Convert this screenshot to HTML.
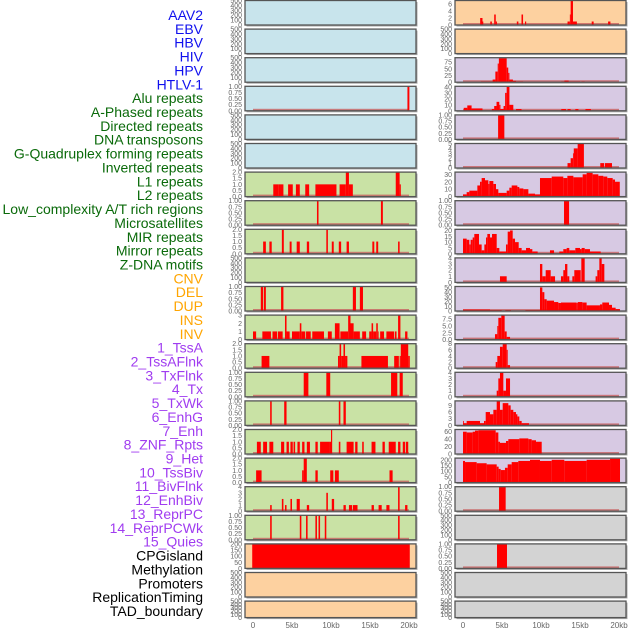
<!DOCTYPE html>
<html><head><meta charset="utf-8">
<style>
html,body{margin:0;padding:0;background:#fff;}
svg{display:block;font-family:"Liberation Sans",sans-serif;}
</style></head>
<body>
<svg id="chart" width="630" height="630" viewBox="0 0 630 630" xmlns="http://www.w3.org/2000/svg">
<g id="labels"></g>
<g id="panels"></g>
<g id="xaxis"></g>
</svg>
<script>
const trackLabels = ["AAV2","EBV","HBV","HIV","HPV","HTLV-1","Alu repeats","A-Phased repeats","Directed repeats","DNA transposons","G-Quadruplex forming repeats","Inverted repeats","L1 repeats","L2 repeats","Low_complexity A/T rich regions","Microsatellites","MIR repeats","Mirror repeats","Z-DNA motifs","CNV","DEL","DUP","INS","INV","1_TssA","2_TssAFlnk","3_TxFlnk","4_Tx","5_TxWk","6_EnhG","7_Enh","8_ZNF_Rpts","9_Het","10_TssBiv","11_BivFlnk","12_EnhBiv","13_ReprPC","14_ReprPCWk","15_Quies","CPGisland","Methylation","Promoters","ReplicationTiming","TAD_boundary"];
const labelGroups = [6,13,5,15,5];
const groupColors = ["#1010ee","#0a6a0a","#ffa500","#a03cf0","#000000"];
const xTickValues = [0,5,10,15,20];
const xTickLabels = ["0","5kb","10kb","15kb","20kb"];

const T500=[0,100,200,300,400,500], T1=[0,0.25,0.5,0.75,1], T2=[0,0.5,1,1.5,2];
const leftBg = ["b","b","b","b","b","b","g","g","g","g","g","g","g","g","g","g","g","g","g","p","p","p"];
const rightBg = ["p","p","v","v","v","v","v","v","v","v","v","v","v","v","v","v","v","k","k","k","k","k"];
const leftYMax = [500,500,500,1,500,500,2,1,2,500,1,3,2,1,1,2,2,4,1,200,500,500];
const rightYMax = [7,500,92,41,1,5,33,1,21,4,52,9,8,4,11,66,215,1,500,1,500,500];
const leftTicks = [T500,T500,T500,T1,T500,T500,T2,T1,T2,T500,T1,[0,1,2,3],T2,T1,T1,T2,T2,[0,1,2,3,4],T1,[0,50,100,150,200],T500,T500];
const rightTicks = [[0,2,4,6],T500,[0,25,50,75],[0,10,20,30,40],T1,[0,1,2,3,4,5],[0,10,20,30],T1,[0,5,10,15,20],[0,1,2,3,4],[0,10,20,30,40,50],[0,2.5,5,7.5],[0,2,4,6,8],[0,1,2,3,4],[0,3,6,9],[0,20,40,60],[0,50,100,150,200],T1,T500,T1,T500,T500];

function hist(edges, vals){ const s=[]; for(let i=0;i<vals.length;i++) s.push([edges[i],edges[i+1],vals[i]]); return s; }

const leftSegs = [
 [],[],[],
 [[19.8,20.05,1]],
 [],[],
 [[2.6,3.3,1],[3.3,3.9,1],[4.5,5.1,1],[5.5,6.0,1],[6.7,7.2,1],[8.0,10.7,1],[11.1,11.9,1],[11.9,12.3,2],[12.3,12.8,1],[18.3,18.8,2],[18.8,18.95,1]],
 [[8.2,8.4,1],[16.4,16.65,1]],
 [[1.3,1.65,1],[2.1,2.4,1],[3.7,3.95,2],[4.7,4.95,1],[5.6,6.0,1],[6.9,7.2,1],[9.4,9.6,2],[10.1,10.35,1],[11.0,11.3,1],[12.0,12.3,1],[15.3,15.55,1],[15.8,16.05,1],[18.6,18.8,1]],
 [],
 [[1.0,1.3,1],[1.4,1.65,1],[3.6,3.9,1],[12.8,13.2,1],[13.7,14.1,1]],
 [[0,0.4,1],[1.2,2.3,1],[2.5,3.1,1],[3.2,3.8,1],[4.1,4.3,3],[4.3,4.7,1],[5.0,6.0,1],[6.0,6.2,2],[6.2,6.7,1],[6.8,7.4,1],[7.6,9.1,1],[9.6,10.1,1],[10.5,11.1,2],[11.2,12.2,1],[12.2,12.5,3],[12.5,12.9,2],[12.9,13.7,1],[14.0,14.5,1],[14.9,15.2,1],[15.2,15.4,2],[15.4,15.8,1],[15.8,16.0,2],[16.0,16.1,1],[16.3,16.8,1],[17.1,18.1,1],[18.2,18.4,1],[18.6,18.9,3],[19.5,19.8,1]],
 [[1.1,2.1,1],[10.9,11.1,1],[11.1,11.3,2],[11.3,11.6,1],[11.6,11.8,2],[11.8,12.1,1],[13.9,17.3,1],[18.1,18.7,1],[18.8,18.95,1],[18.95,19.9,2],[19.9,20.1,1]],
 [[6.5,7.1,1],[9.4,9.9,1],[17.7,18.5,1],[18.8,19.2,1]],
 [[2.2,2.4,1],[4.0,4.3,1],[11.0,11.2,1],[11.6,11.9,1]],
 [[0.5,1.0,1],[1.3,1.8,1],[2.1,2.6,1],[3.6,4.0,1],[4.3,4.6,1],[4.8,5.1,1],[5.2,5.4,1],[5.7,6.0,1],[6.3,6.6,1],[6.9,7.3,1],[8.0,8.3,1],[8.6,9.8,1],[9.8,10.0,1],[10.0,10.15,2],[11.0,11.2,1],[12.0,12.9,1],[13.1,13.4,1],[14.0,14.2,1],[15.2,15.7,1],[16.6,16.9,1],[17.4,18.3,1],[18.6,18.9,1],[19.2,19.5,1],[19.6,19.9,1]],
 [[0.4,1.1,1],[6.3,6.5,1],[6.5,6.9,2],[8.0,8.3,1],[9.9,10.3,1],[10.5,11.0,1],[17.5,17.9,1]],
 [[2.2,2.4,1],[3.7,3.9,2],[4.1,4.3,1],[4.8,5.0,2],[5.6,6.0,2],[6.9,7.2,1],[9.4,9.6,3],[10.1,10.4,2],[11.6,11.9,1],[12.3,12.7,1],[12.8,13.4,1],[15.2,15.5,1],[16.1,16.5,1],[17.1,17.5,1],[18.6,18.8,4],[19.5,19.8,1]],
 [[2.2,2.4,1],[6.0,6.2,1],[6.8,7.0,1],[8.0,8.2,1],[8.4,8.6,1],[9.2,9.4,1],[18.6,18.8,1]],
 [[-0.1,20.1,200]],
 [],[]
];

const rightSegs = [
 [[2.2,2.5,2],[2.5,2.6,1],[3.5,3.7,1],[4.0,4.2,3],[4.2,4.35,1],[6.9,7.1,1],[7.5,7.7,3],[7.95,8.1,1],[13.4,13.7,1],[13.7,13.8,3],[13.8,14.1,7],[14.1,14.6,1],[16.5,16.75,1],[18.6,18.9,1]],
 [],
 [[2.3,3.8,3],[3.8,4.15,10],[4.15,4.45,40],[4.45,4.6,70],[4.6,5.6,90],[5.6,5.8,55],[5.8,5.95,35],[5.95,6.4,10],[6.4,6.8,5],[6.8,7.7,3],[12.6,13.0,3],[13.0,13.55,6],[13.55,15.0,3],[15.2,15.6,3]],
 [[0.1,0.55,5],[0.55,1.1,9],[1.1,2.5,4],[3.7,4.0,3],[4.0,4.3,8],[4.3,4.65,15],[4.65,4.8,10],[4.8,5.2,3],[5.2,5.4,8],[5.4,5.6,30],[5.6,5.95,40],[5.95,6.45,10],[6.8,7.5,3],[12.6,13.2,3],[13.4,13.8,3],[14.4,14.8,3],[15.7,16.4,3]],
 [[4.5,5.3,1]],
 [[13.4,13.8,1],[13.8,14.1,2],[14.1,14.2,3],[14.2,14.7,4],[14.7,15.5,5],[17.6,18.1,1],[18.2,19.1,1]],
 hist([0,0.47,0.81,1.84,2.18,2.39,2.82,3.25,3.38,3.89,4.23,4.53,5.6,5.94,6.24,6.97,7.22,7.74,8.38,9.23,9.87,11.37,12.86,13.38,14.15,15.34,15.85,16.62,17.35,17.99,18.5,19.19,19.49,20.1],
      [3,6,8,15,20,25,22,17,21,17,10,5,8,12,15,13,11,10,4,3,25,27,25,28,26,30,32,30,28,27,25,23,20]),
 [[12.95,13.6,1]],
 hist([0,0.47,0.81,0.98,1.24,1.45,2.05,2.39,2.74,2.95,3.12,3.46,3.72,4.32,4.66,5.51,5.73,6.03,6.37,6.67,7.14,7.52,8.08,8.59,8.89,9.57],
      [13,12,8,12,14,17,8,3,8,14,17,14,17,5,2,8,19,20,13,10,5,3,5,4,2])
   .concat([[11.15,11.67,3]])
   .concat(hist([12.35,12.86,13.29,13.63,14.4,15.0,15.21,15.6,16.28,17.65],[2,4,5,3,5,4,5,4,2])),
 [[4.74,5.6,1],[9.87,10.17,3],[10.17,10.6,1],[10.6,11.24,2],[11.24,11.8,1],[12.56,12.86,1],[12.86,13.08,2],[13.08,13.38,3],[13.38,13.63,1],[14.02,14.27,1],[14.27,15.09,2],[15.17,15.6,4],[17.0,17.22,1],[17.22,17.48,2],[17.48,17.78,4],[17.78,18.12,3]],
 [[0,3.46,3],[3.46,4.96,2],[5.43,6.15,2],[8.0,9.87,2]]
   .concat(hist([9.87,10.17,10.43,10.73,11.67,12.22,12.56,14.57,14.7,15.3,15.85,17.56,17.86,18.72,19.1,19.57,20.13],[50,40,25,22,19,17,18,17,19,18,12,14,18,13,7,4])),
 hist([4.1,4.4,4.53,4.91,5.34,5.6,6.03],[2,5,8,9,3,1]),
 hist([4.19,4.4,4.74,5.09,5.6,5.73,6.03],[2,4,7,8,6,1]),
 hist([4.32,4.53,4.74,5.17,5.51,6.03],[1,3,4,1,3]),
 hist([0,0.04,0.47,2.18,2.69,2.91,3.46,3.89,4.32,4.74,5.09,5.81,6.11,6.45,6.79,6.97,7.22,7.52,8.46],[2,1,2,1,2,6,5,7,11,7,10,9,7,6,5,4,2,1]),
 hist([0,0.47,1.24,1.54,1.97,4.19,4.53,4.74,5.51,5.81,7.22,8.38,8.8,9.36,10.09],[60,58,60,63,64,58,33,30,35,40,42,40,37,33]),
 hist([0,0.26,1.75,3.03,4.32,4.57,4.83,5.38,5.73,6.24,7.09,8.59,9.87,11.37,12.99,15.85,18.85,20.13],[190,180,170,160,140,120,110,130,160,180,190,200,190,200,190,200,210]),
 [[4.62,5.47,1]],
 [],
 [[4.36,5.64,1]],
 [],[]
];

const NS="http://www.w3.org/2000/svg";
const bgColors={b:"#c8e4ec",g:"#c9e2a5",p:"#fdd1a0",v:"#d7c9e3",k:"#d3d3d3"};
function mk(tag, attrs, parent){ const e=document.createElementNS(NS,tag); for(const k in attrs) e.setAttribute(k,attrs[k]); if(parent) parent.appendChild(e); return e; }

// labels
const lg=document.getElementById('labels');
let li=0;
labelGroups.forEach((n,gi)=>{ for(let j=0;j<n;j++){ const y=15+li*13.86;
  const t=mk('text',{x:203,y:y+5,'text-anchor':'end','font-size':14,fill:groupColors[gi]},lg);
  t.textContent=trackLabels[li];
  
  
  li++; }});

const pg=document.getElementById('panels');
function panelTop(i){ return 0.5+i*28.6; }
function panelH(i){ return i===21?16.5:24.5; }
function fmt(v, ticks){ let d=0; ticks.forEach(t=>{const s=String(t); if(s.includes('.')) d=Math.max(d,s.split('.')[1].length);}); return v.toFixed(d); }

function drawColumn(x0, x1, ax0, ax1, segsArr, ymaxArr, ticksArr, bgArr, side){
  const xs=kb=>ax0+(kb/20)*(ax1-ax0);
  for(let i=0;i<22;i++){
    const top=panelTop(i), h=panelH(i), bot=top+h;
    const ys=v=>bot - Math.min(v,ymaxArr[i])/ymaxArr[i]*h;
    const g=mk('g',{},pg);
    
    
    mk('rect',{x:x0+1.5,y:top+1.5,width:x1-x0,height:h,fill:'#a8a8a8'},g);
    mk('rect',{x:x0,y:top,width:x1-x0,height:h,fill:bgColors[bgArr[i]]},g);
    const segs=segsArr[i];
    if(segs.length){
      const bl=mk('rect',{x:xs(0),y:bot-2,width:xs(20)-xs(0),height:2,fill:'#c86060','fill-opacity':0.8},g);
      
      
    }
    segs.forEach(s=>{
      const a=Math.max(xs(s[0]),x0), b=Math.min(xs(s[1]),x1);
      const r=mk('rect',{x:a,y:ys(s[2]),width:Math.max(b-a,0.8),height:bot-ys(s[2]),fill:'#ff0000'},g);
      
      
    });
    mk('rect',{x:x0,y:top,width:x1-x0,height:h,fill:'none',stroke:'#555','stroke-width':1.3},g);
    ticksArr[i].forEach(tv=>{
      const t=mk('text',{x:x0-3,y:ys(tv)+2.5,'text-anchor':'end','font-size':7,fill:'#666'},g);
      t.textContent=fmt(tv,ticksArr[i]);
      
      
    });
  }
  const xg=document.getElementById('xaxis');
  xTickValues.forEach((v,k)=>{
    const t=mk('text',{x:xs(v),y:628,'text-anchor':'middle','font-size':8,fill:'#666'},xg);
    t.textContent=xTickLabels[k];
    
    
  });
}
drawColumn(245,416,253,409,leftSegs,leftYMax,leftTicks,leftBg,'left');
drawColumn(455,626,463,619,rightSegs,rightYMax,rightTicks,rightBg,'right');
</script>
</body></html>
